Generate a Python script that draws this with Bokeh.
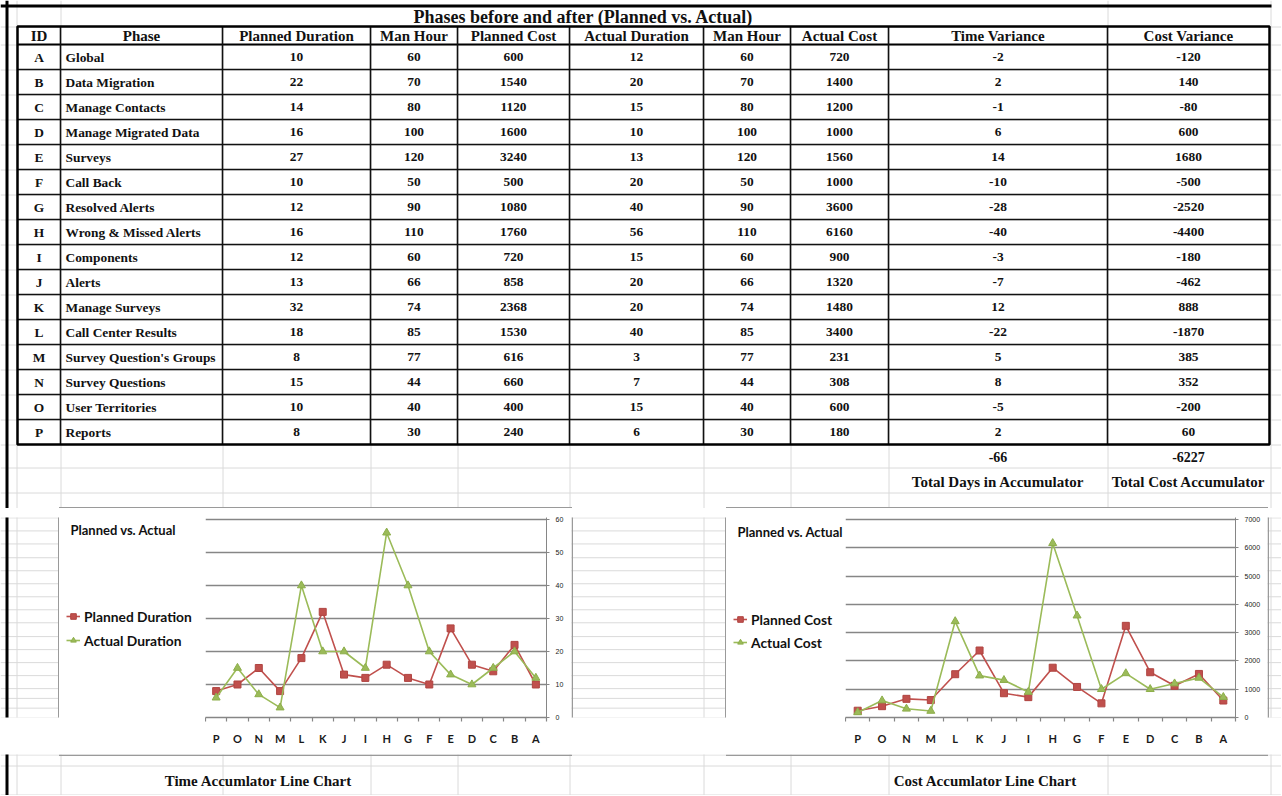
from bokeh.plotting import figure
from bokeh.layouts import column, row
from bokeh.models import Range1d, FixedTicker, Legend, LegendItem, ColumnDataSource
from bokeh.core.properties import value
from bokeh.embed import file_html
from bokeh.resources import INLINE

# ---------------- data ----------------
ids = list("ABCDEFGHIJKLMNOP")
phases = ["Global", "Data Migration", "Manage Contacts", "Manage Migrated Data", "Surveys",
          "Call Back", "Resolved Alerts", "Wrong & Missed Alerts", "Components", "Alerts",
          "Manage Surveys", "Call Center Results", "Survey Question's Groups",
          "Survey Questions", "User Territories", "Reports"]
planned_duration = [10, 22, 14, 16, 27, 10, 12, 16, 12, 13, 32, 18, 8, 15, 10, 8]
man_hour = [60, 70, 80, 100, 120, 50, 90, 110, 60, 66, 74, 85, 77, 44, 40, 30]
planned_cost = [600, 1540, 1120, 1600, 3240, 500, 1080, 1760, 720, 858, 2368, 1530, 616, 660, 400, 240]
actual_duration = [12, 20, 15, 10, 13, 20, 40, 56, 15, 20, 20, 40, 3, 7, 15, 6]
actual_cost = [720, 1400, 1200, 1000, 1560, 1000, 3600, 6160, 900, 1320, 1480, 3400, 231, 308, 600, 180]
time_variance = [-2, 2, -1, 6, 14, -10, -28, -40, -3, -7, 12, -22, 5, 8, -5, 2]
cost_variance = [-120, 140, -80, 600, 1680, -500, -2520, -4400, -180, -462, 888, -1870, 385, 352, -200, 60]
total_days = -66
total_cost = -6227
headers = ["ID", "Phase", "Planned Duration", "Man Hour", "Planned Cost", "Actual Duration",
           "Man Hour", "Actual Cost", "Time Variance", "Cost Variance"]
table_title = "Phases before and after (Planned vs. Actual)"
chart_title = "Planned vs. Actual"
chart_ids = ids[::-1]

# ---------------- layout constants (screen px) ----------------
X0, X1, Y0, Y1 = 0, 1281, 0, 795
ROW_TOP, ROW_BOT = 508, 754
col_edges = [17, 60, 222, 370, 457, 569, 703, 790, 888, 1107, 1269]
HEAD_TOP, HEAD_BOT, ROW_H = 26, 44, 25
sheet_rows = [26] + [44 + 25 * i for i in range(17)] + [467, 492, 508, 524, 540, 557, 573, 589,
                                                         605, 621, 637, 654, 670, 686, 702, 718,
                                                         730, 742, 754, 765, 794]
sheet_cols_full = [16, 60, 1107, 1270]
sheet_cols_lower = [222, 370, 457, 569, 703, 790, 888]
BOX1 = (58.5, 571.5)
BOX2 = (725.5, 1267.5)
SHEET = "#dadada"
BOXC = "#9a9a9a"
RED, GREEN, GRID = "#C0504D", "#9BBB59", "#868686"
SERIF = value("Liberation Serif")
TXT = "#111111"
NAN = float("nan")
LEGEND_SHIFT = 36   # measured correction of the legend's vertical anchor
TITLE_SHIFT = 5     # measured correction of Lato's middle baseline


def canvas(x0, x1, y0, y1):
    p = figure(width=x1 - x0, height=y1 - y0, x_range=Range1d(x0, x1), y_range=Range1d(y1, y0),
               output_backend="svg", toolbar_location=None, min_border=0, title=None,
               x_axis_location=None, y_axis_location=None)
    p.xgrid.visible = False
    p.ygrid.visible = False
    p.outline_line_color = None
    p.background_fill_color = "white"
    p.border_fill_color = "white"
    return p


def sheet(p):
    p.multi_line([[X0, X1] for _ in sheet_rows], [[y + 0.5, y + 0.5] for y in sheet_rows],
                 line_color=SHEET, line_width=1)
    p.multi_line([[x + 0.5, x + 0.5] for x in sheet_cols_full], [[Y0, Y1] for _ in sheet_cols_full],
                 line_color=SHEET, line_width=1)
    p.multi_line([[x + 0.5, x + 0.5] for x in sheet_cols_lower], [[HEAD_TOP, Y1] for _ in sheet_cols_lower],
                 line_color=SHEET, line_width=1)
    p.segment(6.5, Y0, 6.5, Y1, line_color="black", line_width=3)


# ---------------- top: table ----------------
top = canvas(X0, X1, Y0, ROW_TOP)
sheet(top)
top.segment(X0, 5.5, 1271, 5.5, line_color="black", line_width=3)

n = len(ids)
row_lines_y = [HEAD_BOT + ROW_H * i for i in range(1, n)]
top.multi_line([[col_edges[0], col_edges[-1]] for _ in row_lines_y], [[y, y] for y in row_lines_y],
               line_color=TXT, line_width=1.6)
top.segment(col_edges[0], HEAD_BOT, col_edges[-1], HEAD_BOT, line_color="black", line_width=2)
inner = col_edges[1:-1]
top.multi_line([[x, x] for x in inner], [[HEAD_TOP, HEAD_BOT + ROW_H * n] for _ in inner],
               line_color=TXT, line_width=1.6)
top.rect(x=(col_edges[0] + col_edges[-1]) / 2, y=(HEAD_TOP + HEAD_BOT + ROW_H * n) / 2,
         width=col_edges[-1] - col_edges[0], height=HEAD_BOT + ROW_H * n - HEAD_TOP,
         fill_color=None, line_color="black", line_width=2.5)

centers_x = [(col_edges[i] + col_edges[i + 1]) / 2 for i in range(len(col_edges) - 1)]
top.text(x=[583], y=[16], text=[table_title],
         text_align="center", text_baseline="middle", text_font=SERIF, text_font_style="bold",
         text_font_size="18px", text_color=TXT)
top.text(x=centers_x, y=[(HEAD_TOP + HEAD_BOT) / 2 + 0.5] * len(headers), text=headers,
         text_align="center", text_baseline="middle", text_font=SERIF, text_font_style="bold",
         text_font_size="15px", text_color=TXT)

table_cols = [ids, phases, planned_duration, man_hour, planned_cost, actual_duration,
              man_hour, actual_cost, time_variance, cost_variance]
cx, cy, ct = [], [], []
lx, ly, lt = [], [], []
for ci, col in enumerate(table_cols):
    for ri, v in enumerate(col):
        yy = HEAD_BOT + ROW_H * ri + ROW_H / 2
        if ci == 1:
            lx.append(col_edges[1] + 5); ly.append(yy); lt.append(str(v))
        else:
            cx.append(centers_x[ci]); cy.append(yy); ct.append(str(v))
top.text(x=cx, y=cy, text=ct, text_align="center", text_baseline="middle", text_font=SERIF,
         text_font_style="bold", text_font_size="13.4px", text_color=TXT)
top.text(x=lx, y=ly, text=lt, text_align="left", text_baseline="middle", text_font=SERIF,
         text_font_style="bold", text_font_size="13.4px", text_color=TXT)

tot_y1 = HEAD_BOT + ROW_H * n + 12
tot_y2 = tot_y1 + 25
top.text(x=[centers_x[8], centers_x[9]], y=[tot_y1, tot_y1], text=[str(total_days), str(total_cost)],
         text_align="center", text_baseline="middle", text_font=SERIF, text_font_style="bold",
         text_font_size="14px", text_color=TXT)
top.text(x=[centers_x[8], centers_x[9]], y=[tot_y2, tot_y2],
         text=["Total Days in Accumulator", "Total Cost Accumulator"],
         text_align="center", text_baseline="middle", text_font=SERIF, text_font_style="bold",
         text_font_size="15px", text_color=TXT)
top.segment([BOX1[0], BOX2[0]], [507.25, 507.25], [BOX1[1], BOX2[1]], [507.25, 507.25],
            line_color=BOXC, line_width=1.5)


# ---------------- charts ----------------
def chart_side(x0, x1, title_x, title_y, names, leg_x, c1y, c2y):
    """Left part of a chart box: title and legend."""
    p = canvas(x0, x1, ROW_TOP, ROW_BOT)
    p.text(x=[title_x], y=[title_y - TITLE_SHIFT], text=[chart_title], text_align="left",
           text_baseline="middle", text_font=value("Lato"), text_font_style="bold",
           text_font_size="13px", text_color=TXT)
    la = p.line(x=[NAN], y=[NAN], line_color=RED, line_width=1.6)
    sa = p.scatter(x=[NAN], y=[NAN], marker="square", size=7, fill_color=RED, line_color="#B04441")
    lb = p.line(x=[NAN], y=[NAN], line_color=GREEN, line_width=1.6)
    sb = p.scatter(x=[NAN], y=[NAN], marker="triangle", size=8, fill_color=GREEN, line_color="#8DAE4B")
    pitch = c2y - c1y
    legend = Legend(items=[LegendItem(label=names[0], renderers=[la, sa]),
                           LegendItem(label=names[1], renderers=[lb, sb])],
                    location=(leg_x - x0, ROW_BOT - (c2y + 10) - LEGEND_SHIFT),
                    padding=0, margin=0, spacing=pitch - 20, glyph_width=14, glyph_height=20,
                    label_height=20, label_standoff=4, border_line_color=None,
                    background_fill_alpha=0, label_text_font="Lato", label_text_font_style="bold",
                    label_text_font_size="13.8px", label_text_color=TXT)
    p.add_layout(legend)
    return p


def make_chart(x0, x1, fr, ft, fb, ymax, ystep, planned, actual):
    top_px = ft - 2
    frac = (fb - ft + 2) / (fb - ft)
    p = figure(width=x1 - x0, height=ROW_BOT - ROW_TOP, x_range=Range1d(0, len(chart_ids)),
               y_range=Range1d(0, ymax * frac), output_backend="svg", toolbar_location=None, title=None,
               y_axis_location="right", min_border_left=0, min_border_right=x1 - fr,
               min_border_top=top_px - ROW_TOP, min_border_bottom=ROW_BOT - fb)
    p.outline_line_color = None
    p.background_fill_color = "white"
    p.border_fill_color = "white"
    centers = [i + 0.5 for i in range(len(chart_ids))]
    src = ColumnDataSource(dict(x=centers, planned=planned, actual=actual))
    p.line("x", "planned", source=src, line_color=RED, line_width=1.6)
    p.scatter("x", "planned", source=src, marker="square", size=7, fill_color=RED, line_color="#B04441")
    p.line("x", "actual", source=src, line_color=GREEN, line_width=1.6)
    p.scatter("x", "actual", source=src, marker="triangle", size=8, fill_color=GREEN, line_color="#8DAE4B")

    yt = FixedTicker(ticks=list(range(0, ymax + 1, ystep)))
    p.yaxis.ticker = yt
    p.ygrid.ticker = yt
    p.ygrid.grid_line_color = GRID
    p.ygrid.grid_line_width = 1.4
    p.xgrid.visible = False
    p.yaxis.axis_line_color = GRID
    p.yaxis.major_tick_line_color = GRID
    p.yaxis.major_tick_in = 3
    p.yaxis.major_tick_out = 3
    p.yaxis.minor_tick_line_color = None
    p.yaxis.major_label_standoff = 6
    p.yaxis.major_label_text_font = "Liberation Sans"
    p.yaxis.major_label_text_font_size = "7px"
    p.yaxis.major_label_text_color = "#222222"

    p.xaxis.ticker = FixedTicker(ticks=centers, minor_ticks=list(range(len(chart_ids) + 1)))
    p.xaxis.major_label_overrides = {c: nm for c, nm in zip(centers, chart_ids)}
    p.xaxis.axis_line_color = GRID
    p.xaxis.axis_line_width = 1.4
    p.xaxis.major_tick_line_color = None
    p.xaxis.major_tick_in = 0
    p.xaxis.major_tick_out = 0
    p.xaxis.minor_tick_line_color = GRID
    p.xaxis.minor_tick_line_width = 1.2
    p.xaxis.minor_tick_in = 0
    p.xaxis.minor_tick_out = 4
    p.xaxis.major_label_standoff = 10
    p.xaxis.major_label_text_font = "Lato"
    p.xaxis.major_label_text_font_style = "bold"
    p.xaxis.major_label_text_font_size = "11px"
    p.xaxis.major_label_text_color = "#1a1a1a"
    return p


s1 = chart_side(59, 205, 70, 528, ["Planned Duration", "Actual Duration"], 66, 617, 641)
c1 = make_chart(205, 571, 546, 517, 717, 60, 10, planned_duration[::-1], actual_duration[::-1])
s2 = chart_side(726, 845, 737, 531, ["Planned Cost", "Actual Cost"], 733, 620, 643)
c2 = make_chart(845, 1267, 1235, 519, 720, 7000, 1000, planned_cost[::-1], actual_cost[::-1])

fL = canvas(X0, 59, ROW_TOP, ROW_BOT)
sheet(fL)
fL.segment(58.25, 506, 58.25, 756, line_color=BOXC, line_width=1.5)
fM = canvas(571, 726, ROW_TOP, ROW_BOT)
sheet(fM)
fM.segment([571.75, 725.25], [506, 506], [571.75, 725.25], [756, 756], line_color=BOXC, line_width=1.5)
fR = canvas(1267, X1, ROW_TOP, ROW_BOT)
sheet(fR)
fR.segment(1267.75, 506, 1267.75, 756, line_color=BOXC, line_width=1.5)

bot = canvas(X0, X1, ROW_BOT, Y1)
sheet(bot)
bot.segment([BOX1[0], BOX2[0]], [754.75, 754.75], [BOX1[1], BOX2[1]], [754.75, 754.75],
            line_color=BOXC, line_width=1.5)
bot.text(x=[258, 985], y=[780, 780], text=["Time Accumlator Line Chart", "Cost Accumlator Line Chart"],
         text_align="center", text_baseline="middle", text_font=SERIF, text_font_style="bold",
         text_font_size="15px", text_color=TXT)

layout = column(top, row(fL, s1, c1, fM, s2, c2, fR, spacing=0), bot, spacing=0)
open("out.html", "w").write(file_html(layout, INLINE, title="Phases before and after"))
